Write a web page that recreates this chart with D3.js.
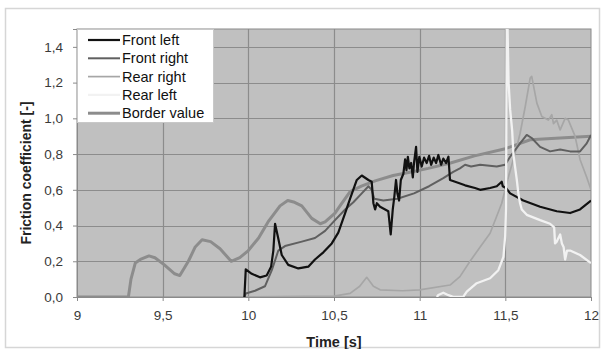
<!DOCTYPE html>
<html>
<head>
<meta charset="utf-8">
<script src="https://cdn.jsdelivr.net/npm/d3@7"></script>
<style>
  html, body { margin: 0; padding: 0; background: #fff; }
  text { font-family: "Liberation Sans", Arial, sans-serif; }
</style>
</head>
<body>
<div id="chart"></div>
<script>
// series names shown in the legend
const seriesNames = ['Front left', 'Front right', 'Rear right', 'Rear left', 'Border value']

// time [s] and friction coefficient
const frontLeftT = [9.977, 9.985, 10.02, 10.068, 10.107, 10.133, 10.146, 10.156, 10.172, 10.195, 10.233, 10.292, 10.35, 10.389, 10.438, 10.487, 10.525, 10.565, 10.594, 10.633, 10.662, 10.701, 10.72, 10.73, 10.74, 10.75, 10.769, 10.817, 10.831, 10.843, 10.852, 10.862, 10.87, 10.88, 10.89, 10.905, 10.915, 10.923, 10.931, 10.94, 10.95, 10.96, 10.967, 10.979, 10.987, 10.998, 11.012, 11.026, 11.041, 11.055, 11.067, 11.082, 11.096, 11.109, 11.125, 11.138, 11.154, 11.168, 11.177, 11.207, 11.265, 11.323, 11.353, 11.411, 11.45, 11.479, 11.485, 11.504, 11.528, 11.605, 11.703, 11.8, 11.878, 11.936, 12.0]
const frontLeftV = [0.0, 0.155, 0.13, 0.11, 0.12, 0.17, 0.26, 0.41, 0.34, 0.235, 0.18, 0.16, 0.17, 0.21, 0.25, 0.30, 0.36, 0.47, 0.55, 0.655, 0.68, 0.655, 0.645, 0.525, 0.49, 0.525, 0.505, 0.48, 0.35, 0.49, 0.56, 0.655, 0.58, 0.54, 0.655, 0.69, 0.77, 0.71, 0.785, 0.72, 0.75, 0.67, 0.75, 0.84, 0.70, 0.785, 0.73, 0.78, 0.75, 0.79, 0.74, 0.78, 0.75, 0.795, 0.74, 0.775, 0.75, 0.785, 0.655, 0.645, 0.625, 0.61, 0.60, 0.61, 0.62, 0.645, 0.62, 0.61, 0.58, 0.54, 0.505, 0.48, 0.47, 0.49, 0.54]

const frontRightT = [9.977, 9.985, 10.039, 10.097, 10.137, 10.175, 10.214, 10.312, 10.389, 10.448, 10.506, 10.565, 10.613, 10.662, 10.701, 10.72, 10.735, 10.788, 10.87, 10.967, 11.055, 11.138, 11.196, 11.235, 11.265, 11.3, 11.353, 11.45, 11.499, 11.528, 11.586, 11.625, 11.654, 11.703, 11.761, 11.82, 11.878, 11.936, 11.975, 12.0]
const frontRightV = [0.0, 0.02, 0.035, 0.06, 0.15, 0.26, 0.285, 0.31, 0.33, 0.37, 0.43, 0.49, 0.53, 0.58, 0.62, 0.60, 0.55, 0.54, 0.55, 0.58, 0.62, 0.665, 0.70, 0.72, 0.74, 0.73, 0.74, 0.73, 0.74, 0.785, 0.86, 0.907, 0.89, 0.84, 0.815, 0.825, 0.815, 0.815, 0.86, 0.907]

const rearRightT = [9.985, 10.5, 10.594, 10.65, 10.691, 10.73, 10.769, 10.9, 11.0, 11.177, 11.235, 11.294, 11.353, 11.411, 11.479, 11.513, 11.567, 11.586, 11.616, 11.645, 11.654, 11.684, 11.713, 11.751, 11.771, 11.781, 11.8, 11.82, 11.849, 11.868, 11.907, 11.936, 11.975, 12.0]
const rearRightV = [0.0, 0.005, 0.02, 0.06, 0.11, 0.06, 0.04, 0.035, 0.04, 0.067, 0.114, 0.20, 0.28, 0.357, 0.525, 0.655, 0.84, 0.915, 1.065, 1.225, 1.235, 1.085, 1.01, 0.99, 1.02, 0.97, 0.99, 0.935, 1.0, 0.99, 0.90, 0.77, 0.67, 0.6]

const rearLeftT = [11.1, 11.109, 11.138, 11.168, 11.2, 11.255, 11.275, 11.333, 11.411, 11.459, 11.489, 11.499, 11.504, 11.508, 11.513, 11.519, 11.528, 11.54, 11.547, 11.567, 11.576, 11.586, 11.596, 11.625, 11.703, 11.761, 11.785, 11.79, 11.8, 11.82, 11.83, 11.84, 11.849, 11.86, 11.878, 11.936, 12.0]
const rearLeftV = [0.0, 0.011, 0.024, 0.01, 0.0, 0.002, 0.03, 0.077, 0.105, 0.15, 0.225, 0.34, 0.5, 1.55, 1.5, 1.2, 1.05, 0.93, 0.80, 0.655, 0.58, 0.525, 0.49, 0.46, 0.43, 0.41, 0.39, 0.30, 0.31, 0.35, 0.30, 0.28, 0.21, 0.26, 0.26, 0.235, 0.19]

const borderT = [9.0, 9.3, 9.315, 9.34, 9.37, 9.42, 9.455, 9.51, 9.57, 9.60, 9.65, 9.69, 9.73, 9.78, 9.835, 9.90, 9.95, 10.0, 10.06, 10.115, 10.185, 10.23, 10.27, 10.312, 10.37, 10.42, 10.448, 10.506, 10.535, 10.594, 10.66, 10.74, 10.845, 10.95, 11.05, 11.18, 11.32, 11.5, 11.645, 11.82, 12.0]
const borderV = [0, 0, 0.1, 0.19, 0.21, 0.23, 0.22, 0.18, 0.13, 0.12, 0.20, 0.28, 0.32, 0.31, 0.27, 0.20, 0.22, 0.26, 0.33, 0.42, 0.51, 0.54, 0.53, 0.51, 0.44, 0.41, 0.42, 0.47, 0.51, 0.59, 0.62, 0.65, 0.68, 0.70, 0.72, 0.75, 0.79, 0.83, 0.88, 0.89, 0.90]

const xTicks = [9, 9.5, 10, 10.5, 11, 11.5, 12]
const yTicks = [0, 0.2, 0.4, 0.6, 0.8, 1.0, 1.2, 1.4]

const W = 604, H = 349
const margin = {left: 77, right: 13, top: 29, bottom: 52}

const svg = d3.select('#chart').append('svg')
  .attr('width', W).attr('height', H)

// light frame around the whole chart
svg.append('rect')
  .attr('x', 5.5).attr('y', 8.5)
  .attr('width', 594).attr('height', 339)
  .attr('fill', '#fff')
  .attr('stroke', '#d6d6d6')
  .attr('stroke-width', 1.5)

const x = d3.scaleLinear().domain([9, 12]).range([margin.left, W - margin.right])
const y = d3.scaleLinear().domain([0, 1.5]).range([H - margin.bottom, margin.top])

const comma = d3.formatLocale({decimal: ',', thousands: '.', grouping: [3], currency: ['', '']})
const fmtY = comma.format('.1f')
const fmtX = comma.format('~f')

// plot area
svg.append('rect')
  .attr('x', x(9)).attr('y', y(1.5))
  .attr('width', x(12) - x(9)).attr('height', y(0) - y(1.5))
  .attr('fill', '#c0c0c0')

svg.append('defs').append('clipPath').attr('id', 'clip')
  .append('rect')
  .attr('x', x(9)).attr('y', y(1.5))
  .attr('width', x(12) - x(9)).attr('height', y(0) - y(1.5))

// grid
svg.append('g').selectAll('line')
  .data(yTicks.filter(d => d > 0))
  .enter().append('line')
  .attr('x1', x(9)).attr('x2', x(12))
  .attr('y1', d => Math.round(y(d)) + 0.5).attr('y2', d => Math.round(y(d)) + 0.5)
  .attr('stroke', '#8c8c8c').attr('stroke-width', 1.2)

svg.append('g').selectAll('line')
  .data(xTicks.filter(d => d > 9 && d < 12))
  .enter().append('line')
  .attr('y1', y(0)).attr('y2', y(1.5))
  .attr('x1', d => Math.round(x(d)) + 0.5).attr('x2', d => Math.round(x(d)) + 0.5)
  .attr('stroke', '#8c8c8c').attr('stroke-width', 1.2)

svg.append('rect')
  .attr('x', x(9)).attr('y', y(1.5))
  .attr('width', x(12) - x(9)).attr('height', y(0) - y(1.5))
  .attr('fill', 'none').attr('stroke', '#8a8a8a').attr('stroke-width', 1)

// axes
const xAxis = svg.append('g')
  .attr('transform', `translate(0,${y(0)})`)
  .call(d3.axisBottom(x).tickValues(xTicks).tickFormat(fmtX).tickSize(4).tickPadding(9))
const yAxis = svg.append('g')
  .attr('transform', `translate(${x(9)},0)`)
  .call(d3.axisLeft(y).tickValues(yTicks).tickFormat(fmtY).tickSize(4).tickPadding(10))

;[xAxis, yAxis].forEach(a => {
  a.select('.domain').attr('stroke', '#8a8a8a')
  a.selectAll('.tick line').attr('stroke', '#8a8a8a')
  a.selectAll('.tick text')
    .attr('fill', '#3a3a3a')
    .style('font-size', '13.5px')
    .style('font-family', '"Liberation Sans", Arial, sans-serif')
})

svg.append('text')
  .attr('x', (x(9) + x(12)) / 2).attr('y', 347)
  .attr('text-anchor', 'middle')
  .style('font-size', '14.5px').style('font-weight', 'bold').attr('fill', '#222')
  .text('Time [s]')

svg.append('text')
  .attr('transform', `translate(31,${(y(0) + y(1.5)) / 2 + 10}) rotate(-90)`)
  .attr('text-anchor', 'middle')
  .style('font-size', '14px').style('font-weight', 'bold').attr('fill', '#222')
  .text('Friction coefficient [-]')

// lines
const line = d3.line().x(d => x(d[0])).y(d => y(d[1]))
const zip = (ts, vs) => ts.map((t, i) => [t, vs[i]])

const series = [
  {name: 'Front left', data: zip(frontLeftT, frontLeftV), color: '#111', width: 2.2},
  {name: 'Front right', data: zip(frontRightT, frontRightV), color: '#606060', width: 2},
  {name: 'Rear right', data: zip(rearRightT, rearRightV), color: '#a6a6a6', width: 1.7},
  {name: 'Rear left', data: zip(rearLeftT, rearLeftV), color: '#f2f2f2', width: 2.3},
  {name: 'Border value', data: zip(borderT, borderV), color: '#8c8c8c', width: 3}
]

const drawOrder = ['Border value', 'Rear right', 'Front right', 'Front left', 'Rear left']
const lines = svg.append('g').attr('clip-path', 'url(#clip)')
drawOrder.forEach(n => {
  const s = series.find(d => d.name === n)
  lines.append('path')
    .attr('d', line(s.data))
    .attr('fill', 'none')
    .attr('stroke', s.color)
    .attr('stroke-width', s.width)
    .attr('stroke-linejoin', 'round')
})

// legend
const legend = svg.append('g')
legend.append('rect')
  .attr('x', x(9) + 0.5).attr('y', y(1.5) + 0.5)
  .attr('width', 136).attr('height', 93)
  .attr('fill', '#fff').attr('stroke', '#c8c8c8')

seriesNames.forEach((n, i) => {
  const s = series.find(d => d.name === n)
  const ry = 40 + i * 18.3
  legend.append('line')
    .attr('x1', 88).attr('x2', 120).attr('y1', ry).attr('y2', ry)
    .attr('stroke', s.color).attr('stroke-width', s.width)
  legend.append('text')
    .attr('x', 122).attr('y', ry + 5)
    .style('font-size', '14.5px').attr('fill', '#111')
    .text(n)
})
</script>
</body>
</html>
